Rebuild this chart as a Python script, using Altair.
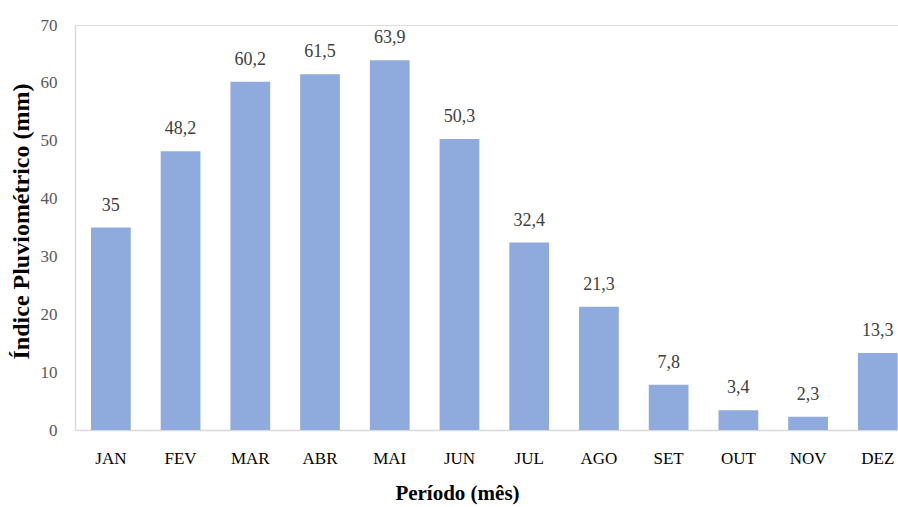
import altair as alt
import pandas as pd

months = ["JAN", "FEV", "MAR", "ABR", "MAI", "JUN", "JUL", "AGO", "SET", "OUT", "NOV", "DEZ"]
values = [35, 48.2, 60.2, 61.5, 63.9, 50.3, 32.4, 21.3, 7.8, 3.4, 2.3, 13.3]

df = pd.DataFrame({"mes": months, "valor": values})

FONT = "'Times New Roman', 'Liberation Serif', serif"

x = alt.X("mes:N", sort=months,
          scale=alt.Scale(paddingInner=0.43, paddingOuter=0.117, align=0.98),
          axis=alt.Axis(title="Período (mês)", labelAngle=0, ticks=False,
                        domainColor="#D9D9D9", domainWidth=1.5,
                        labelFont=FONT, labelFontSize=17, labelColor="#000000",
                        labelPadding=20, titleFont=FONT, titleFontSize=21,
                        titleFontWeight="bold", titleColor="#000000",
                        titlePadding=16, titleX=382))
y = alt.Y("valor:Q",
          scale=alt.Scale(domain=[0, 70], nice=False),
          axis=alt.Axis(title="Índice Pluviométrico (mm)", values=list(range(0, 71, 10)),
                        grid=False, ticks=False, domainColor="#D9D9D9", domainWidth=1.5,
                        labelFont=FONT, labelFontSize=17, labelColor="#595959",
                        labelPadding=18, titleFont=FONT, titleFontSize=24,
                        titleFontWeight="bold", titleColor="#000000",
                        titleAngle=270, titleBaseline="middle", titleAlign="center",
                        titleX=-54, titleY=196))

bars = alt.Chart(df).mark_bar(color="#8FAADC").encode(x=x, y=y)

text = alt.Chart(df).transform_calculate(
    lab="replace(toString(datum.valor), '.', ',')"
).mark_text(font=FONT, fontSize=18, color="#404040", baseline="middle", dy=-22).encode(
    x=alt.X("mes:N", sort=months), y=alt.Y("valor:Q"), text="lab:N")

chart = (bars + text).properties(
    width=823, height=405,
    autosize=alt.AutoSizeParams(type="none"),
    padding={"left": 75, "top": 25, "right": 0, "bottom": 77},
).configure_view(stroke=None).configure(background="white", font=FONT)

chart.save("out.html", embed_options={"renderer": "svg", "actions": False})
